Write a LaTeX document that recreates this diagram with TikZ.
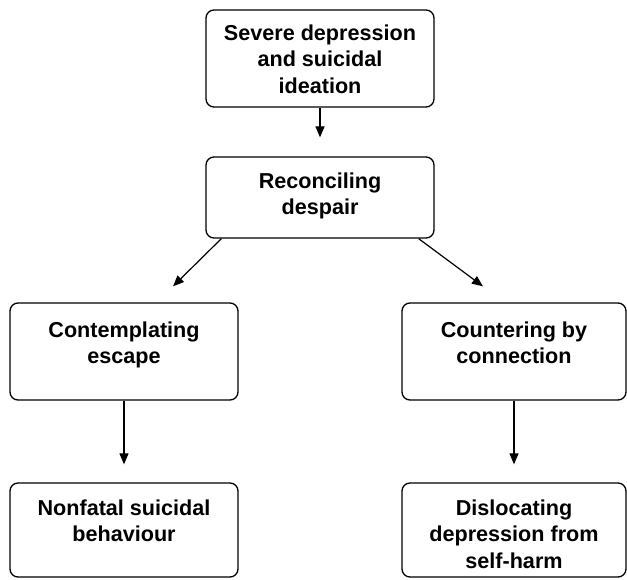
\documentclass[tikz,border=0pt]{standalone}
\usepackage{fontspec}
\setmainfont{Liberation Sans}[BoldFont={Liberation Sans Bold}]
\usetikzlibrary{arrows.meta,calc}
\tikzset{
  box/.style={draw, rounded corners=8pt, line width=1.3pt, inner sep=0pt},
  lbl/.style={anchor=north, align=center, inner sep=0pt, font=\bfseries\fontsize{21.6}{26.7}\selectfont},
  arr/.style={line width=1.2pt, -{Triangle[length=11pt,width=9pt]}}
}
\begin{document}
\begin{tikzpicture}[x=1pt,y=-1pt]
\useasboundingbox (0,0) rectangle (627,579);
\node[box, minimum width=228pt, minimum height=97pt] (b1) at (320,58.5) {};
\node[box, minimum width=228pt, minimum height=81pt] (b2) at (320,197.5) {};
\node[box, minimum width=228pt, minimum height=97pt] (b3) at (124,351.5) {};
\node[box, minimum width=224pt, minimum height=97pt] (b4) at (514,351.5) {};
\node[box, minimum width=228pt, minimum height=94pt] (b5) at (124,530) {};
\node[box, minimum width=224pt, minimum height=94pt] (b6) at (514,530) {};
\node[lbl] (t1) at ($(b1.north)+(0,15)$) {Severe depression\\and suicidal\\ideation};
\node[lbl] (t2) at ($(b2.north)+(0,16)$) {Reconciling\\despair};
\node[lbl] (t3) at ($(b3.north)+(0,19)$) {Contemplating\\escape};
\node[lbl] (t4) at ($(b4.north)+(0,19)$) {Countering by\\connection};
\node[lbl] (t5) at ($(b5.north)+(0,17)$) {Nonfatal suicidal\\behaviour};
\node[lbl] (t6) at ($(b6.north)+(0,17)$) {Dislocating\\depression from\\self-harm};
\draw[arr, shorten >=19pt] (b1.south) -- (b2.north);
\draw[arr] ($(b2.south west)+(16,0)$) -- ($(b3.north)+(49,-16)$);
\draw[arr] ($(b2.south east)+(-16,0)$) -- ($(b4.north)+(-31,-16)$);
\draw[arr, shorten >=18pt] (b3.south) -- (b5.north);
\draw[arr, shorten >=18pt] (b4.south) -- (b6.north);
\end{tikzpicture}
\end{document}
